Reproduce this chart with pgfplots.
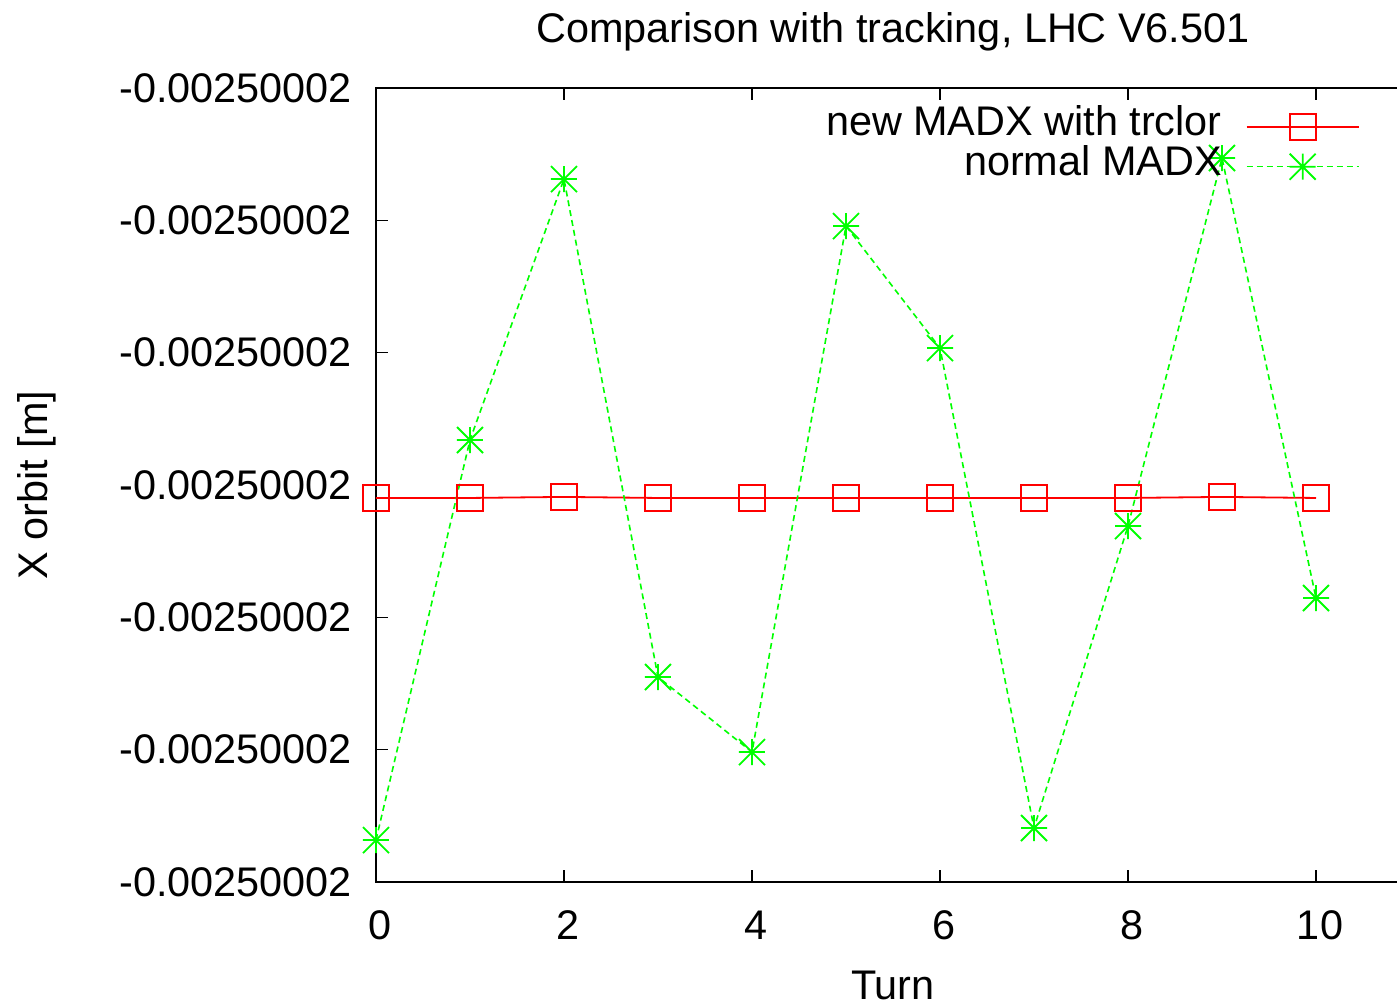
\documentclass[border=0pt]{standalone}
\usepackage{fontspec}
\setmainfont{Liberation Sans}
\usepackage{pgfplots}
\pgfplotsset{compat=1.18}
\pgfdeclareplotmark{gpstar}{%
  \pgfpathmoveto{\pgfqpoint{-\pgfplotmarksize}{0pt}}\pgfpathlineto{\pgfqpoint{\pgfplotmarksize}{0pt}}%
  \pgfpathmoveto{\pgfqpoint{0pt}{-\pgfplotmarksize}}\pgfpathlineto{\pgfqpoint{0pt}{\pgfplotmarksize}}%
  \pgfpathmoveto{\pgfqpoint{-\pgfplotmarksize}{-\pgfplotmarksize}}\pgfpathlineto{\pgfqpoint{\pgfplotmarksize}{\pgfplotmarksize}}%
  \pgfpathmoveto{\pgfqpoint{-\pgfplotmarksize}{\pgfplotmarksize}}\pgfpathlineto{\pgfqpoint{\pgfplotmarksize}{-\pgfplotmarksize}}%
  \pgfusepathqstroke}
\newcommand{\fs}{\fontsize{20.7}{24.8}\selectfont}
\begin{document}
\begin{tikzpicture}
\begin{axis}[
  at={(0,0)}, anchor=south west,
  scale only axis, width=517pt, height=397pt,
  xmin=0, xmax=11, ymin=0, ymax=6,
  axis line style={line width=1pt},
  every tick/.style={black, line width=0.8pt},
  major tick length=6pt,
  tick align=inside,
  xtick={0,2,4,6,8,10},
  xticklabels={0,2,4,6,8,10},
  ytick={0,1,2,3,4,5,6},
  yticklabels={-0.00250002,-0.00250002,-0.00250002,-0.00250002,-0.00250002,-0.00250002,-0.00250002},
  xticklabel style={font=\fs, anchor=center, yshift=-21.5pt, xshift=2pt},
  yticklabel style={font=\fs, anchor=east, xshift=-8.5pt},
  title={Comparison with tracking, LHC V6.501},
  title style={font=\fs, at={(axis description cs:0.5,1)}, anchor=center, yshift=22pt},
  xlabel={Turn},
  xlabel style={font=\fs, at={(axis description cs:0.5,0)}, anchor=center, yshift=-51.5pt},
  ylabel={X orbit [m]},
  ylabel style={font=\fs, at={(axis description cs:-0.328,0.5)}, anchor=center},
  clip=false,
  legend plot pos=right,
  legend cell align=right,
  legend style={draw=none, fill=none, font=\fs, at={(0.9516,0.977)}, anchor=north east,
    inner sep=0pt, row sep=0pt, column sep=12pt,
    nodes={inner sep=0pt, text height=14.5pt, text depth=5.5pt}},
  legend image code/.code={%
    \draw[mark repeat=2, mark phase=2, #1] plot coordinates {(0pt,0pt) (28pt,0pt) (56pt,0pt)};},
]
\addplot[red, line width=0.9pt, mark=square, mark size=6.5pt, mark options={solid, line width=1pt}] coordinates {
(0,2.902) (1,2.902) (2,2.910) (3,2.902) (4,2.902) (5,2.902) (6,2.902) (7,2.902) (8,2.902) (9,2.910) (10,2.902)};
\addlegendentry{new MADX with trclor}
\addplot[green, line width=0.8pt, dash pattern=on 3pt off 2pt, mark=gpstar, mark size=6.5pt, mark options={solid, line width=0.9pt}] coordinates {
(0,0.317) (1,3.340) (2,5.312) (3,1.549) (4,0.982) (5,4.957) (6,4.035) (7,0.408) (8,2.690) (9,5.471) (10,2.146)};
\addlegendentry{normal MADX}
\end{axis}
\pgfresetboundingbox
\path (-188pt,-61.5pt) rectangle (510.5pt,441pt);
\end{tikzpicture}
\end{document}
